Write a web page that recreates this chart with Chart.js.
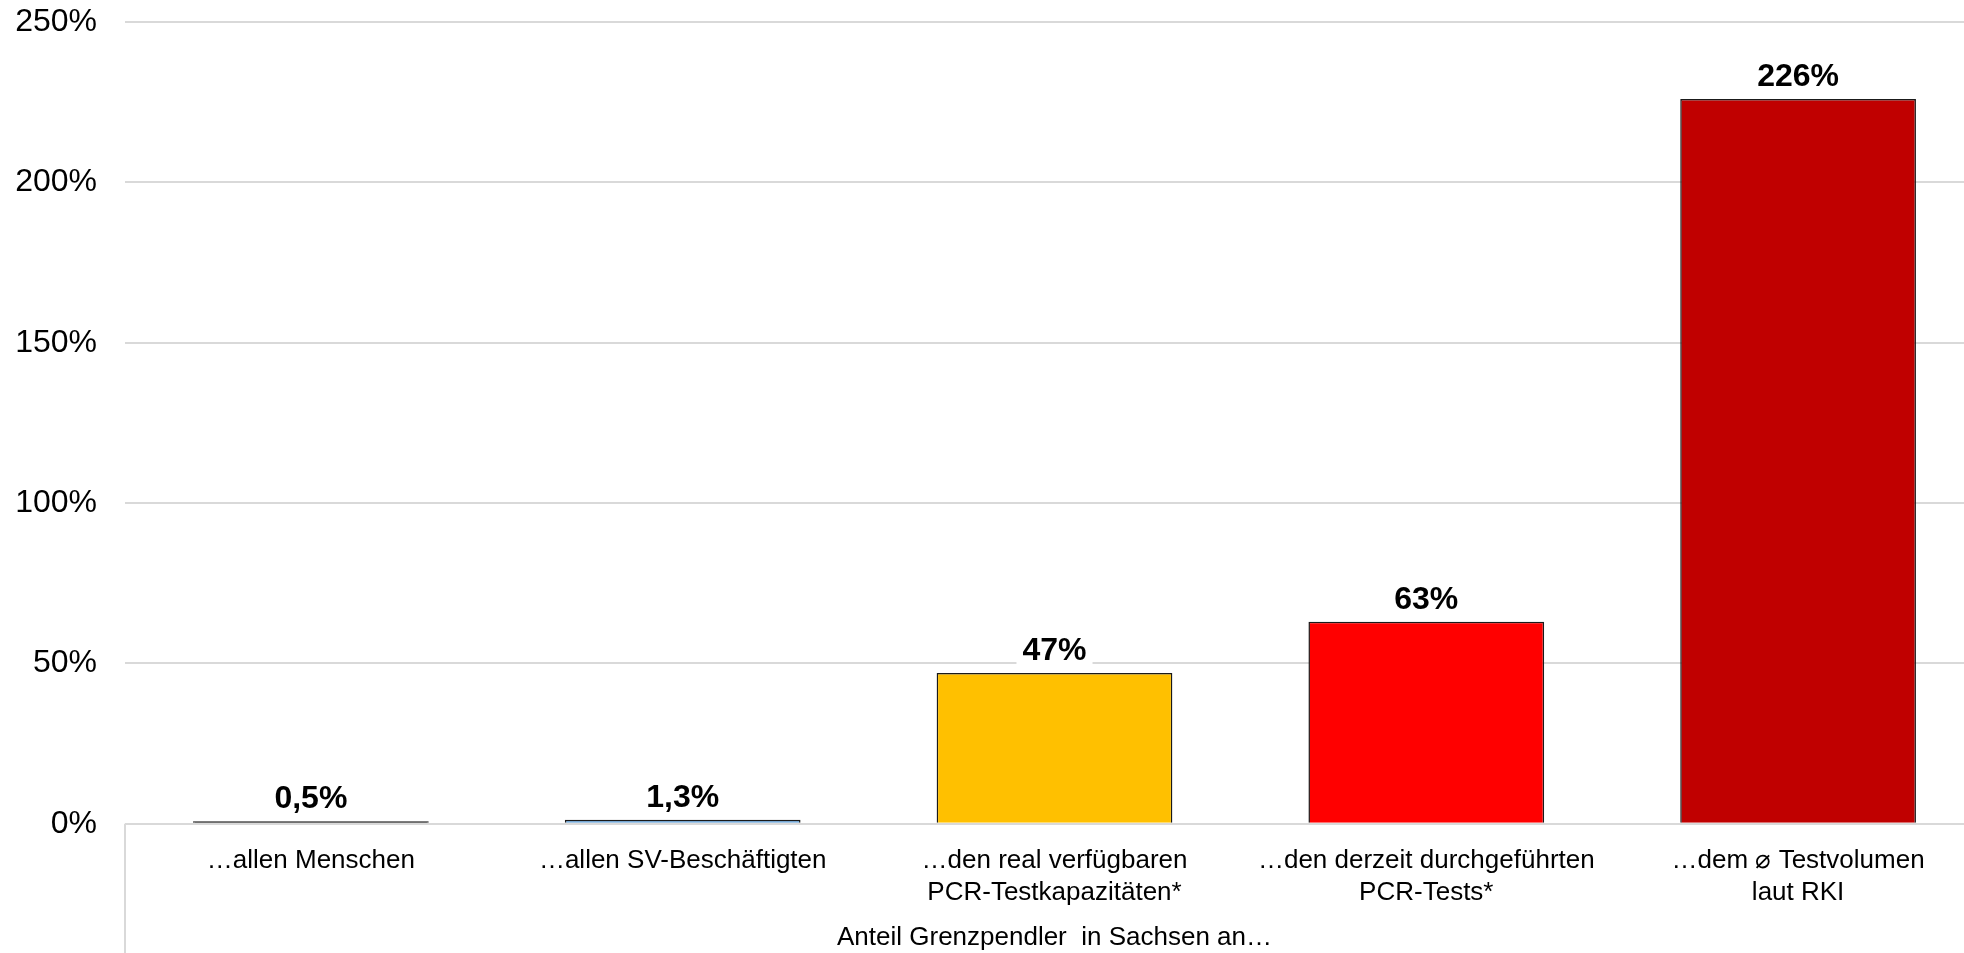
<!DOCTYPE html>
<html lang="de">
<head>
<meta charset="utf-8">
<title>Anteil Grenzpendler in Sachsen</title>
<script src="https://cdn.jsdelivr.net/npm/chart.js@4.4.1/dist/chart.umd.min.js"></script>
<style>
  html, body { margin: 0; padding: 0; background: #fff; overflow: hidden; }
  #wrap { position: relative; width: 1984px; height: 953px; }
</style>
</head>
<body>
<div id="wrap"><canvas id="chart"></canvas></div>
<script>
"use strict";

const CATEGORIES = [
  ["…allen Menschen"],
  ["…allen SV-Beschäftigten"],
  ["…den real verfügbaren", "PCR-Testkapazitäten*"],
  ["…den derzeit durchgeführten", "PCR-Tests*"],
  ["…dem ⌀ Testvolumen", "laut RKI"],
];
const VALUES = [0.5, 1.3, 47, 63, 226];
const BAR_COLORS = ["#000000", "#5B9BD5", "#FFC000", "#FF0000", "#C00000"];
const AXIS_TITLE = "Anteil Grenzpendler  in Sachsen an…";
const Y_MAX = 250;
const Y_STEP = 50;

const FONT = "'Liberation Sans', Arial, sans-serif";
const GRID = "#D9D9D9";

function fmtPercent(v) {
  // German decimal comma for the small values
  return (v < 10 ? v.toFixed(1).replace(".", ",") : String(Math.round(v))) + "%";
}

// value labels above the bars, with a white box behind them
const valueLabels = {
  id: "valueLabels",
  afterDatasetsDraw(chart) {
    const ctx = chart.ctx;
    const meta = chart.getDatasetMeta(0);
    ctx.save();
    ctx.font = "bold 32px " + FONT;
    ctx.textAlign = "center";
    ctx.textBaseline = "alphabetic";
    meta.data.forEach((bar, i) => {
      const text = fmtPercent(VALUES[i]);
      const w = ctx.measureText(text).width;
      const base = bar.y - 13;
      ctx.fillStyle = "#fff";
      ctx.fillRect(bar.x - w / 2 - 6, base - 27, w + 12, 33);
      ctx.fillStyle = "#000";
      ctx.fillText(text, bar.x, base);
    });
    ctx.restore();
  },
};

// left border of the category area below the zero line
const categoryFrame = {
  id: "categoryFrame",
  afterDraw(chart) {
    const { ctx, chartArea } = chart;
    ctx.save();
    ctx.strokeStyle = GRID;
    ctx.lineWidth = 2;
    ctx.beginPath();
    ctx.moveTo(chartArea.left, chartArea.bottom);
    ctx.lineTo(chartArea.left, chart.height);
    ctx.stroke();
    ctx.restore();
  },
};

new Chart(document.getElementById("chart"), {
  type: "bar",
  data: {
    labels: CATEGORIES,
    datasets: [
      {
        data: VALUES,
        backgroundColor: BAR_COLORS,
        borderColor: "#1a1a1a",
        borderWidth: 1.5,
        borderSkipped: "start",
        minBarLength: 2.5,
        categoryPercentage: 1,
        barPercentage: 0.634,
      },
    ],
  },
  options: {
    responsive: true,
    maintainAspectRatio: false,
    animation: false,
    layout: { padding: 0 },
    plugins: {
      legend: { display: false },
      tooltip: { enabled: false },
    },
    scales: {
      x: {
        grid: { display: false },
        border: { display: false },
        ticks: {
          color: "#000",
          font: { family: FONT, size: 26, lineHeight: 1.23 },
          padding: 13,
          maxRotation: 0,
          autoSkip: false,
        },
        title: {
          display: true,
          text: AXIS_TITLE,
          color: "#000",
          font: { family: FONT, size: 26, lineHeight: 1.2 },
          padding: { top: 0, bottom: 0 },
        },
      },
      y: {
        min: 0,
        max: Y_MAX,
        border: { display: false },
        grid: { color: GRID, lineWidth: 2, drawTicks: false },
        ticks: {
          stepSize: Y_STEP,
          color: "#000",
          font: { family: FONT, size: 32 },
          padding: 28,
          callback: (v) => v + "%",
        },
        afterFit(scale) {
          scale.width = 125;
          // keep the top gridline close to the top edge
          scale.paddingTop = 22;
        },
      },
    },
  },
  plugins: [valueLabels, categoryFrame],
});
</script>
</body>
</html>
